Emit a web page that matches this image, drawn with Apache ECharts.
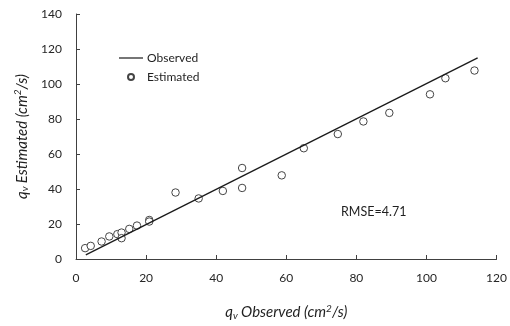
<!DOCTYPE html>
<html>
<head>
<meta charset="utf-8">
<script src="https://cdn.jsdelivr.net/npm/echarts@6/dist/echarts.min.js"></script>
<style>
html,body{margin:0;padding:0;background:#fff;}
#chart{width:510px;height:326px;}
</style>
</head>
<body>
<div id="chart"></div>
<script>
// Observed (x) vs Estimated (y)
const observedVals = [2.6, 4.2, 7.3, 9.5, 11.8, 13.0, 13.0, 15.2, 17.4, 20.9, 20.9, 28.4, 35.0, 41.9, 47.4, 47.4, 58.7, 65.0, 74.7, 82.0, 89.4, 101.0, 105.4, 113.7];
const estimatedVals = [6.2, 7.5, 10.0, 12.9, 14.2, 15.1, 11.9, 17.2, 19.1, 22.3, 21.4, 38.0, 34.6, 38.9, 40.6, 52.0, 47.8, 63.3, 71.4, 78.6, 83.5, 94.1, 103.3, 107.7];
const lineX = [2.8, 114.6];
const lineY = [2.4, 114.9];
const xTicks = [0, 20, 40, 60, 80, 100, 120];
const yTicks = [0, 20, 40, 60, 80, 100, 120, 140];
const rmseText = 'RMSE=4.71';

const FONT = 'Lato';
const chart = echarts.init(document.getElementById('chart'));
const scatterData = observedVals.map((v, i) => [v, estimatedVals[i]]);
const lineData = lineX.map((v, i) => [v, lineY[i]]);
const titleRich = {
  i: {fontStyle: 'italic', fontSize: 15, fontFamily: FONT, color: '#1f1f1f'},
  sub: {fontStyle: 'italic', fontSize: 10, fontFamily: FONT, color: '#1f1f1f', verticalAlign: 'bottom', padding: [7, 0, 0, 0]},
  sup: {fontStyle: 'italic', fontSize: 10, fontFamily: FONT, color: '#1f1f1f', verticalAlign: 'top', padding: [0, 0, 7, 0]}
};
chart.setOption({
  animation: false,
  grid: {left: 76, right: 12, top: 14, bottom: 65, containLabel: false},
  legend: {
    orient: 'vertical', left: 114, top: 47,
    itemWidth: 24, itemHeight: 6, itemGap: 7,
    textStyle: {fontFamily: FONT, fontSize: 12, color: '#1f1f1f', padding: [0, 0, 0, -1]},
    data: [
      {name: 'Observed', icon: 'path://M0,0H24V1.2H0Z'},
      {name: 'Estimated', icon: 'circle'}
    ]
  },
  xAxis: {
    type: 'value', min: xTicks[0], max: xTicks[xTicks.length - 1], interval: 20,
    splitLine: {show: false},
    axisLine: {lineStyle: {color: '#404040', width: 1}},
    axisTick: {inside: true, length: 4, lineStyle: {color: '#404040'}},
    axisLabel: {fontFamily: FONT, fontSize: 12, color: '#262626', margin: 13},
    name: '{i|q}{sub|v} {i|Observed (cm}{sup|2}{i|/s)}',
    nameLocation: 'middle', nameGap: 45,
    nameTextStyle: {rich: titleRich}
  },
  yAxis: {
    type: 'value', min: yTicks[0], max: yTicks[yTicks.length - 1], interval: 20,
    splitLine: {show: false},
    axisLine: {show: true, lineStyle: {color: '#404040', width: 1}},
    axisTick: {show: true, inside: true, length: 4, lineStyle: {color: '#404040'}},
    axisLabel: {fontFamily: FONT, fontSize: 12, color: '#262626', margin: 14},
    name: '{i|q}{sub|v} {i|Estimated (cm}{sup|2}{i|/s)}',
    nameLocation: 'middle', nameGap: 39, nameRotate: 90,
    nameTextStyle: {rich: titleRich}
  },
  series: [
    {
      name: 'Observed', type: 'line', data: lineData, symbol: 'none', showSymbol: false,
      lineStyle: {color: '#1a1a1a', width: 1.3}, itemStyle: {color: '#1a1a1a'}
    },
    {
      name: 'Estimated', type: 'scatter', data: scatterData,
      symbol: 'circle', symbolSize: 7.5,
      itemStyle: {color: '#ffffff', borderColor: '#444444', borderWidth: 1, opacity: 1}
    }
  ],
  graphic: [{
    type: 'text', left: 341, top: 205,
    style: {text: rmseText, font: '12.5px ' + FONT, fill: '#1f1f1f'}
  }]
});
</script>
</body>
</html>
